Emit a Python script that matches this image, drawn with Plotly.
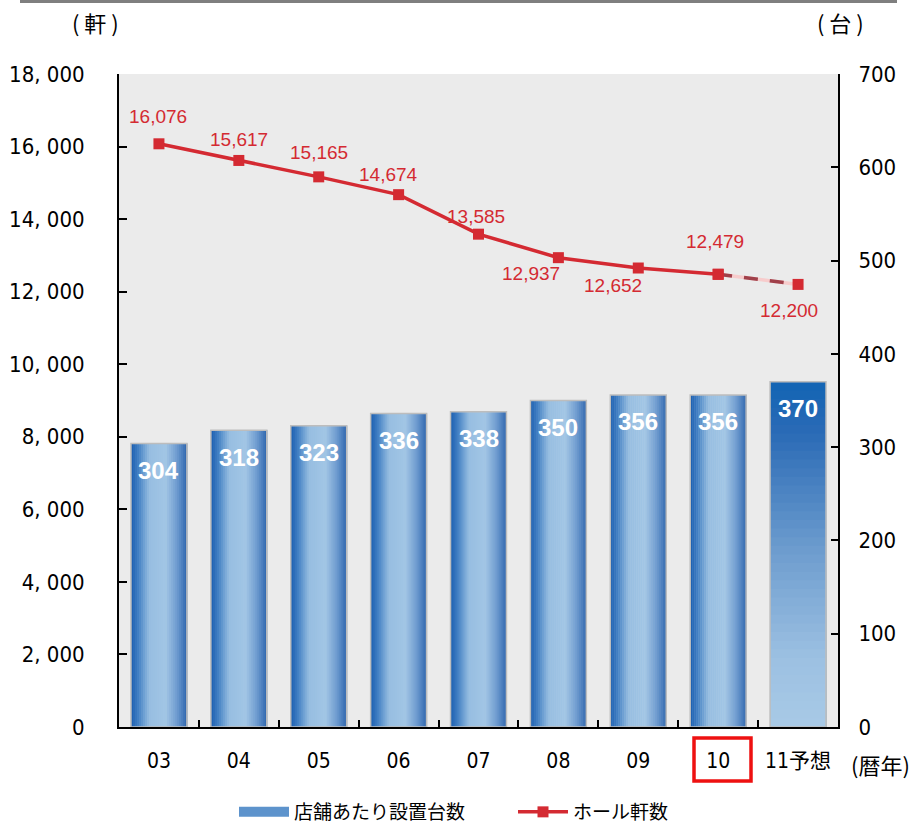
import plotly.graph_objects as go

# ---------------- data ----------------
categories = ["03", "04", "05", "06", "07", "08", "09", "10", "11予想"]
machines_per_hall = [304, 318, 323, 336, 338, 350, 356, 356, 370]   # right axis (台)
hall_count = [16076, 15617, 15165, 14674, 13585, 12937, 12652, 12479, 12200]  # left axis (軒)
left_tickvals = [0, 2000, 4000, 6000, 8000, 10000, 12000, 14000, 16000, 18000]
left_ticktext = ["0", "2, 000", "4, 000", "6, 000", "8, 000", "10, 000",
                 "12, 000", "14, 000", "16, 000", "18, 000"]
right_tickvals = [0, 100, 200, 300, 400, 500, 600, 700]
n_actual = 8  # 03..10 actual, 11 forecast

# label offsets (px) for the hall-count labels
lab_dx = [-1, 0, 0, -10, -3, -27, -25, -3, -9]
lab_dy = [27, 21, 24, 20, 18, -16, -17, 33, -26]

FONT_NUM = "Liberation Sans Narrow, DejaVu Sans Condensed, Noto Sans CJK JP, sans-serif"
FONT_JP = "Noto Sans CJK JP, sans-serif"
FONT_LAB = "Liberation Sans, Arial, sans-serif"
RED = "#d42a32"

# plot-area geometry in pixels (for paper-coordinate decorations)
L, R, T, B, W, H = 119, 838, 74, 727, 922, 824
PW, PH = R - L, B - T


def px(xp):
    return (xp - L) / PW


def py(yp):
    return (B - yp) / PH


def hexrgb(h):
    h = h.lstrip("#")
    return tuple(int(h[i:i + 2], 16) for i in (0, 2, 4))


def interp(stops, t):
    for (t0, c0), (t1, c1) in zip(stops[:-1], stops[1:]):
        if t0 <= t <= t1:
            a, b = hexrgb(c0), hexrgb(c1)
            u = (t - t0) / (t1 - t0) if t1 > t0 else 0
            return "rgb(%d,%d,%d)" % tuple(round(a[k] + (b[k] - a[k]) * u) for k in range(3))
    return stops[-1][1]


h_stops = [(0.0, "#1a5fb0"), (0.12, "#3f7dc2"), (0.33, "#97bee1"), (0.62, "#a2c6e5"),
           (0.82, "#6f9cd0"), (1.0, "#2f66ae")]
v_stops = [(0.0, "#a8cae6"), (0.2, "#9cc0e2"), (0.5, "#6f9ecf"), (0.85, "#2b6bb6"), (1.0, "#1264b4")]

fig = go.Figure()

BW = 0.7
# ---- actual bars: horizontal gradient made of thin strips ----
NS = 28
xa = categories[:n_actual]
ya = machines_per_hall[:n_actual]
step = BW / NS
for i in range(NS):
    t = (i + 0.5) / NS
    fig.add_trace(go.Bar(
        x=xa, y=ya, yaxis="y2", width=step * 1.25, offset=-BW / 2 + i * step,
        marker=dict(color=interp(h_stops, t), line=dict(width=0)),
        showlegend=False, hoverinfo="skip"))

# ---- forecast bar: vertical gradient made of layered bars ----
NV = 40
xf = categories[n_actual:]
yf = machines_per_hall[n_actual:]
for j in range(NV):
    f = 1 - j / NV
    fig.add_trace(go.Bar(
        x=xf, y=[v * f for v in yf], yaxis="y2", width=BW, offset=-BW / 2,
        marker=dict(color=interp(v_stops, f - 0.5 / NV), line=dict(width=0)),
        showlegend=False, hoverinfo="skip"))

# ---- outline for all bars ----
fig.add_trace(go.Bar(
    x=categories, y=machines_per_hall, yaxis="y2", width=BW, offset=-BW / 2,
    marker=dict(color="rgba(0,0,0,0)", line=dict(color="#bdbdbd", width=1.5)),
    showlegend=False, hoverinfo="skip"))
# legend entry for the bars (wide swatch)
fig.add_trace(go.Scatter(
    x=[categories[0]], y=[None], yaxis="y2", name="店舗あたり設置台数", mode="lines",
    line=dict(color="#5d93cc", width=14), showlegend=True, legendrank=1))

# ---- hall count line ----
fig.add_trace(go.Scatter(
    x=categories[n_actual - 1:], y=hall_count[n_actual - 1:], mode="lines",
    line=dict(color="#f7cccc", width=3.5), showlegend=False, hoverinfo="skip"))
fig.add_trace(go.Scatter(
    x=categories[n_actual - 1:], y=hall_count[n_actual - 1:], mode="lines",
    line=dict(color="#a0404a", width=3.5, dash="14px,12px"), showlegend=False, hoverinfo="skip"))
fig.add_trace(go.Scatter(
    x=categories[n_actual - 1:], y=hall_count[n_actual - 1:], mode="markers",
    marker=dict(symbol="square", size=11, color=RED), showlegend=False, hoverinfo="skip"))
fig.add_trace(go.Scatter(
    x=categories[:n_actual], y=hall_count[:n_actual], mode="lines+markers",
    name="ホール軒数", line=dict(color=RED, width=3.5),
    marker=dict(symbol="square", size=11, color=RED), legendrank=2))

annotations = []
for i, (v, dx, dy) in enumerate(zip(hall_count, lab_dx, lab_dy)):
    annotations.append(dict(x=i, y=v, xref="x", yref="y", text=f"{v:,}", showarrow=False,
                            xshift=dx, yshift=dy, xanchor="center", yanchor="middle",
                            font=dict(family=FONT_LAB, size=19, color=RED)))
for i, v in enumerate(machines_per_hall):
    annotations.append(dict(x=i, y=v, xref="x", yref="y2", text=f"<b>{v}</b>", showarrow=False,
                            yshift=-27, xanchor="center", yanchor="middle",
                            font=dict(family=FONT_LAB, size=24, color="white")))
unit_font = dict(family=FONT_JP, size=22, color="black")
annotations += [
    dict(x=px(95), y=py(22), xref="paper", yref="paper", text="( 軒 )", showarrow=False,
         xanchor="center", yanchor="middle", font=unit_font),
    dict(x=px(840), y=py(22), xref="paper", yref="paper", text="( 台 )", showarrow=False,
         xanchor="center", yanchor="middle", font=unit_font),
    dict(x=px(880), y=py(764), xref="paper", yref="paper", text="(暦年)", showarrow=False,
         xanchor="center", yanchor="middle", font=unit_font),
]

fig.update_layout(
    annotations=annotations,
    width=W, height=H,
    margin=dict(l=L, r=W - R, t=T, b=H - B, autoexpand=False),
    paper_bgcolor="white", plot_bgcolor="#ebebeb",
    barmode="overlay",
    showlegend=True,
    legend=dict(orientation="h", x=px(234), xanchor="left", y=py(812), yanchor="middle",
                font=dict(family=FONT_JP, size=19, color="black"), traceorder="normal",
                itemwidth=50, entrywidth=214, bgcolor="rgba(0,0,0,0)"),
    xaxis=dict(type="category", categoryorder="array", categoryarray=categories,
               showline=True, linecolor="black", linewidth=2, ticks="inside", ticklen=7,
               tickcolor="black", tickwidth=2, tickson="boundaries", showgrid=False,
               tickfont=dict(family=FONT_NUM, size=21, color="black"), ticklabelstandoff=14,
               range=[-0.5, len(categories) - 0.5]),
    yaxis=dict(range=[0, 18000], tickvals=left_tickvals, ticktext=left_ticktext,
               showline=True, linecolor="black", linewidth=2, ticks="inside", ticklen=8,
               tickcolor="black", tickwidth=2, showgrid=False, zeroline=False,
               tickfont=dict(family=FONT_NUM, size=22, color="black"), ticklabelstandoff=28),
    yaxis2=dict(range=[0, 700], tickvals=right_tickvals, overlaying="y", side="right",
                showline=True, linecolor="black", linewidth=2, ticks="inside", ticklen=7,
                tickcolor="black", tickwidth=2, showgrid=False, zeroline=False,
                tickfont=dict(family=FONT_NUM, size=22, color="black"), ticklabelstandoff=14),
)

fig.add_shape(type="line", xref="paper", yref="paper",
              x0=px(20), x1=px(897), y0=py(1.5), y1=py(1.5),
              line=dict(color="#7f7f7f", width=3))
fig.add_shape(type="rect", xref="paper", yref="paper",
              x0=px(694), x1=px(751), y0=py(781), y1=py(738),
              line=dict(color="#ee1111", width=3.5), fillcolor="rgba(0,0,0,0)")

fig.write_html("out.html", config={"displayModeBar": False},
               post_script="document.body.style.margin='0px';")
